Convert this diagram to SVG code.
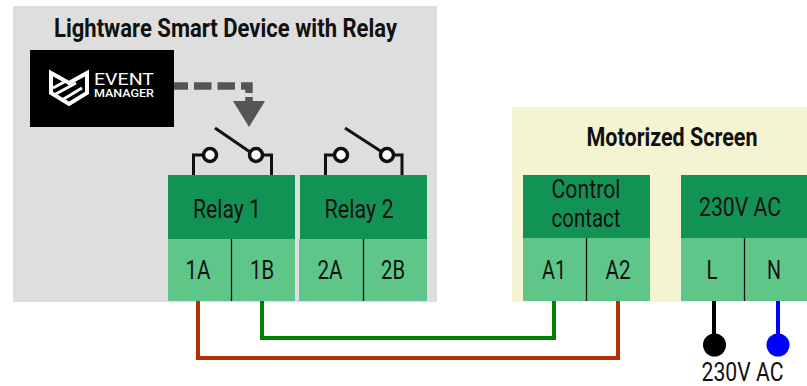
<svg xmlns="http://www.w3.org/2000/svg" width="807" height="386" viewBox="0 0 807 386">
<style>
text{font-family:"Roboto","Liberation Sans",sans-serif;fill:#111;text-anchor:middle}
.t{font-size:25.500px}
.h{font-size:25px;font-weight:700}
.dark{fill:#139256}
.light{fill:#5fc68a}
.div{stroke:#111;stroke-width:1.3;fill:none}
.sw{stroke:#111;stroke-width:3;fill:none}
.dot{stroke:#111;stroke-width:3.5;fill:#fff}
.wire{fill:none;stroke-width:4}
</style>
<rect x="0" y="0" width="807" height="386" fill="#fff"/>
<g id="smart-device">
<rect x="13" y="6" width="424" height="296" fill="#dedede"/>
<text class="h" x="225.500" y="37" textLength="343" lengthAdjust="spacingAndGlyphs">Lightware Smart Device with Relay</text>
</g>
<g id="motorized-screen">
<rect x="512" y="107" width="295" height="195" fill="#f4f4d2"/>
<text class="h" x="672" y="146" textLength="171" lengthAdjust="spacingAndGlyphs">Motorized Screen</text>
</g>
<g id="event-manager">
<rect x="30" y="50" width="144" height="77" fill="#000"/>
<path d="M51 73V93L69 104L87 93V73L69 83Z" fill="none" stroke="#fff" stroke-width="4"/>
<path d="M53 88L66 81M54 95L76 83M62 100L82 88" fill="none" stroke="#fff" stroke-width="3"/>
<text x="124" y="85" font-size="16" style="fill:#fff" textLength="60" lengthAdjust="spacingAndGlyphs">EVENT</text>
<text x="124" y="97" font-size="10" font-weight="500" style="fill:#fff" textLength="60" lengthAdjust="spacingAndGlyphs">MANAGER</text>
</g>
<g id="relay-1">
<rect class="dark" x="168" y="175" width="127" height="64"/>
<rect class="light" x="168" y="239" width="127" height="62"/>
<path class="div" d="M231.500 239V301"/>
<text class="t" x="227" y="218" textLength="68" lengthAdjust="spacingAndGlyphs">Relay 1</text>
<text class="t" x="198" y="279" textLength="25" lengthAdjust="spacingAndGlyphs">1A</text>
<text class="t" x="262" y="279" textLength="24" lengthAdjust="spacingAndGlyphs">1B</text>
<path class="sw" d="M193.500 175V155H204M271.500 175V155H262M215 128L250 152"/>
<circle class="dot" cx="210" cy="155" r="6.500"/>
<circle class="dot" cx="256" cy="155" r="6.500"/>
</g>
<g id="relay-2">
<rect class="dark" x="300" y="175" width="127" height="64"/>
<rect class="light" x="299" y="239" width="128" height="62"/>
<path class="div" d="M363.500 239V301"/>
<text class="t" x="359" y="218" textLength="69" lengthAdjust="spacingAndGlyphs">Relay 2</text>
<text class="t" x="330" y="279" textLength="25" lengthAdjust="spacingAndGlyphs">2A</text>
<text class="t" x="393" y="279" textLength="24" lengthAdjust="spacingAndGlyphs">2B</text>
<path class="sw" d="M325.500 175V155H336M402 175V155H394M345 128L382 152"/>
<circle class="dot" cx="341" cy="155" r="6.500"/>
<circle class="dot" cx="387" cy="155" r="6.500"/>
</g>
<g id="control-contact">
<rect class="dark" x="523" y="175" width="127" height="63"/>
<rect class="light" x="523" y="238" width="127" height="63"/>
<path class="div" d="M586.500 238V301"/>
<text class="t" x="586" y="198" textLength="69" lengthAdjust="spacingAndGlyphs">Control</text>
<text class="t" x="586" y="227" textLength="69" lengthAdjust="spacingAndGlyphs">contact</text>
<text class="t" x="554" y="279" textLength="24" lengthAdjust="spacingAndGlyphs">A1</text>
<text class="t" x="618" y="279" textLength="25" lengthAdjust="spacingAndGlyphs">A2</text>
</g>
<g id="power-230v">
<rect class="dark" x="681" y="175" width="126" height="63"/>
<rect class="light" x="681" y="238" width="126" height="63"/>
<path class="div" d="M744.500 238V301"/>
<text class="t" x="740" y="216" textLength="82" lengthAdjust="spacingAndGlyphs">230V AC</text>
<text class="t" x="712" y="279" textLength="11" lengthAdjust="spacingAndGlyphs">L</text>
<text class="t" x="774" y="279" textLength="14" lengthAdjust="spacingAndGlyphs">N</text>
</g>
<g id="connectors">
<path d="M174 86H249V101" fill="none" stroke="#555" stroke-width="7.500" stroke-dasharray="14 6 17.500 6 17.500 6 15 4 4 100"/>
<path d="M233 101H265L249 127Z" fill="#555"/>
<path class="wire" stroke="#b33000" d="M198 301V358H618V301"/>
<path class="wire" stroke="#008000" d="M262 301V338H554V301"/>
<path class="wire" stroke="#000" d="M714 301V340"/>
<path class="wire" stroke="#0000ff" d="M778 301V340"/>
</g>
<g id="terminal-l"><circle cx="714.500" cy="345" r="11.500" fill="#000"/></g>
<g id="terminal-n"><circle cx="778" cy="345" r="11.500" fill="#0000ff"/></g>
<text class="t" x="742.500" y="381" textLength="82" lengthAdjust="spacingAndGlyphs">230V AC</text>
</svg>
